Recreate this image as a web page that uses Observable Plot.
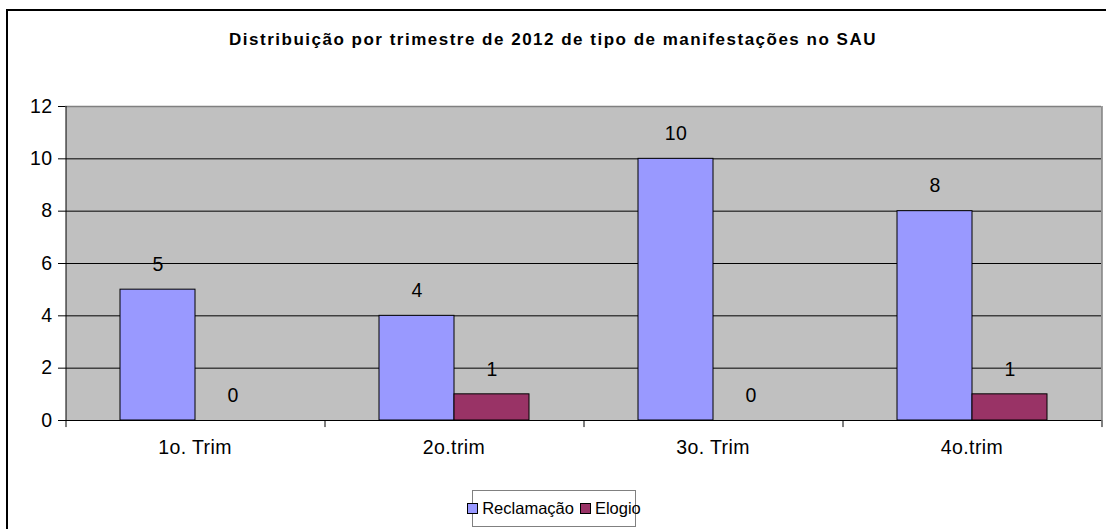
<!DOCTYPE html>
<html>
<head>
<meta charset="utf-8">
<script src="https://cdn.jsdelivr.net/npm/d3@7"></script>
<script src="https://cdn.jsdelivr.net/npm/@observablehq/plot@0.6"></script>
<style>
  html, body { margin: 0; padding: 0; background: #fff; }
  body { width: 1106px; height: 529px; overflow: hidden; position: relative; font-family: "Liberation Sans", Arial, sans-serif; }
  #border { position: absolute; left: 6px; top: 9px; width: 1300px; height: 700px; border-left: 2px solid #000; border-top: 2px solid #000; box-sizing: border-box; }
  #title { position: absolute; left: 8px; top: 11px; width: 1090px; height: 58px; line-height: 58px; text-align: center; font-weight: bold; font-size: 17px; letter-spacing: 1.5px; color: #000; white-space: nowrap; }
  #chart { position: absolute; left: 8px; top: 69px; }
  #legend { position: absolute; left: 472px; top: 490px; width: 164px; height: 37px; border: 1px solid #808080; box-sizing: border-box; display: flex; align-items: center; justify-content: center; gap: 6px; font-size: 16.5px; color: #000; }
  #legend .item { display: flex; align-items: center; gap: 4px; }
  #legend .sw { width: 9px; height: 9px; border: 1px solid #000; }
</style>
</head>
<body>
<div id="border"></div>
<div id="title">Distribuição por trimestre de 2012 de tipo de manifestações no SAU</div>
<div id="chart"></div>
<div id="legend"></div>
<script>
const categories = ["1o. Trim", "2o.trim", "3o. Trim", "4o.trim"];
const series = ["Reclamação", "Elogio"];
const reclamacao = [5, 4, 10, 8];
const elogio = [0, 1, 0, 1];
const colors = ["#9999FF", "#993366"];
const yTicks = [0, 2, 4, 6, 8, 10, 12];
const gridValues = [2, 4, 6, 8, 10];

const data = categories.flatMap((c, i) => [
  {trim: c, serie: series[0], value: reclamacao[i]},
  {trim: c, serie: series[1], value: elogio[i]}
]);

const facetW = 259, barW = 75;
const po = (facetW / barW - 2) / 2;
const edge = po * barW + barW / 2;

const bounds = categories.map(c => ({trim: c, serie: series[0]}));
const first = [{trim: categories[0], serie: series[0]}];
const last = [{trim: categories[categories.length - 1], serie: series[1]}];

const chart = Plot.plot({
  width: 1098,
  height: 396,
  marginTop: 37,
  marginBottom: 45,
  marginLeft: 57,
  marginRight: 5,
  style: {fontFamily: "'Liberation Sans', Arial, sans-serif", fontSize: "19.5px", letterSpacing: "0.4px", color: "#000", background: "transparent", overflow: "visible", maxWidth: "none"},
  fx: {domain: categories, padding: 0, label: null, axis: "bottom", tickSize: 0, tickPadding: 20},
  x: {domain: series, paddingInner: 0, paddingOuter: po, axis: null},
  y: {domain: [0, 12], ticks: yTicks, tickSize: 7, tickPadding: 6, label: null},
  color: {domain: series, range: colors},
  marks: [
    Plot.frame({fill: "#c0c0c0", stroke: "none", shapeRendering: "crispEdges"}),
    Plot.ruleY(gridValues, {stroke: "#000", strokeWidth: 1}),
    Plot.ruleY([12], {stroke: "#808080", strokeWidth: 1.5}),
    Plot.barY(data, {fx: "trim", x: "serie", y: "value", fill: "serie", stroke: "#000", strokeWidth: 1}),
    Plot.ruleY([0], {stroke: "#000", strokeWidth: 1}),
    Plot.ruleX(first, {fx: "trim", x: "serie", dx: -edge, y1: 0, y2: 12, stroke: "#000"}),
    Plot.ruleX(bounds, {fx: "trim", x: "serie", dx: -edge, y1: 0, y2: -0.27, stroke: "#000"}),
    Plot.ruleX(last, {fx: "trim", x: "serie", dx: edge, y1: 0, y2: 12, stroke: "#808080", strokeWidth: 1.5}),
    Plot.ruleX(last, {fx: "trim", x: "serie", dx: edge, y1: 0, y2: -0.27, stroke: "#000"}),
    Plot.text(data, {fx: "trim", x: "serie", y: "value", text: d => String(d.value), dy: -25, fontSize: 19.5, fill: "#000"})
  ]
});
document.getElementById("chart").appendChild(chart);

const legend = document.getElementById("legend");
series.forEach((s, i) => {
  const item = document.createElement("div");
  item.className = "item";
  const sw = document.createElement("span");
  sw.className = "sw";
  sw.style.background = colors[i];
  const label = document.createElement("span");
  label.textContent = s;
  item.appendChild(sw);
  item.appendChild(label);
  legend.appendChild(item);
});
</script>
</body>
</html>
